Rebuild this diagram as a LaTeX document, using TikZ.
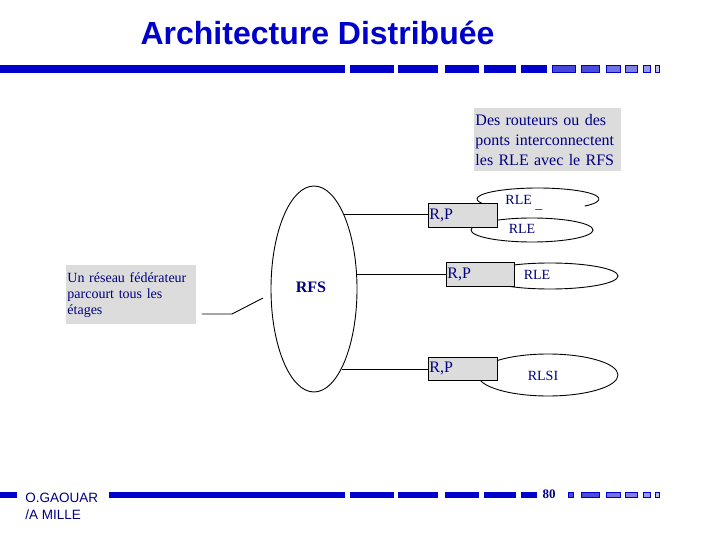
\documentclass[tikz,border=0pt]{standalone}
\usepackage{fontspec}
\setmainfont{Liberation Serif}
\newfontfamily\arialf{Liberation Sans}
\usetikzlibrary{shapes.geometric}
\definecolor{barblue}{HTML}{0000CC}
\definecolor{navy}{HTML}{000080}
\definecolor{boxgray}{HTML}{DCDCDC}
\begin{document}
\begin{tikzpicture}[x=1pt,y=1pt,line width=0.9pt,
  seg/.style={fill=barblue},
  tailseg/.style={draw=barblue,line width=1.4pt},
  rpbox/.style={draw,fill=boxgray,minimum height=24pt,inner xsep=1pt,inner ysep=0pt,
     align=left,anchor=north west,text=navy,font=\fontsize{16}{18}\selectfont},
  notebox/.style={fill=boxgray,inner xsep=1pt,inner ysep=0pt,align=left,anchor=north west,text=navy},
  net/.style={draw,ellipse,fill=white,inner sep=0pt},
  netlabel/.style={text=navy,font=\fontsize{14}{16}\selectfont,inner sep=0pt}]
\useasboundingbox (0,0) rectangle (720,-540);

% title
\node[text=barblue,font=\arialf\bfseries\fontsize{32}{36}\selectfont] (title) at (317.5,-33) {Architecture Distribuée};

% top bar
\foreach \a/\b in {0/345,350/394,398/438,445/479,484/516,521/547}
  \fill[seg] (\a,-65) rectangle (\b,-73);
\foreach \a/\b/\c in {552/576/72,581/600/70,606/621/55,625/638/50,643/651/40,655/660/25}
  \filldraw[tailseg,fill=barblue!\c!white] (\a+0.7,-65.7) rectangle (\b-0.7,-72.3);

% bottom bar
\foreach \a/\b in {0/17,109/345,350/394,398/438,445/479,484/516,521/537}
  \fill[seg] (\a,-492) rectangle (\b,-498);
\foreach \a/\b/\c in {568/574/72,581/600/70,606/621/55,625/638/50,643/651/40,655/660/25}
  \filldraw[tailseg,fill=barblue!\c!white] (\a+0.7,-492.7) rectangle (\b-0.7,-497.3);

% footer texts
\node[anchor=west,align=left,text=navy,inner sep=0pt,font=\arialf\fontsize{13.5}{17}\selectfont] (author) at (25,-506) {O.GAOUAR\\/A MILLE};
\node[text=navy,inner sep=0pt,font=\bfseries\fontsize{13}{14}\selectfont] (page) at (549,-494) {80};

% note boxes
\node[notebox,text width=145pt,minimum height=63pt,font=\fontsize{16}{20}\selectfont] (note) at (474,-108)
  {Des routeurs ou des\\ponts interconnectent\\les RLE avec le RFS};
\node[notebox,text width=128pt,minimum height=59pt,font=\fontsize{14}{16}\selectfont] (fed) at (66,-265)
  {Un réseau fédérateur\\parcourt tous les\\étages};

% backbone
\node[draw,ellipse,minimum width=86pt,minimum height=206pt,inner sep=0pt] (rfs) at (314,-289) {};
\node[text=navy,inner sep=0pt,font=\bfseries\fontsize{16}{18}\selectfont] (rfstext) at (311,-287) {RFS};

% RLE networks
\coordinate (c1) at (538,-199);
\draw (c1) ++(-40:61pt and 11pt) arc[start angle=-40,end angle=215,x radius=61pt,y radius=11pt];
\node[net,minimum width=122pt,minimum height=24pt] (rle2) at (532,-230) {};
\node[net,minimum width=136pt,minimum height=26pt] (rle3) at (550,-276) {};
\node[net,minimum width=140pt,minimum height=42pt] (rlsi) at (548,-375) {};

% routers
\node[rpbox,text width=67pt] (rp1) at (428,-203) {R,P};
\node[rpbox,text width=66pt] (rp2) at (446,-262) {R,P};
\node[rpbox,text width=67pt,minimum height=23pt] (rp3) at (428,-357) {R,P};

% labels
\node[netlabel,anchor=west] (l1) at (505,-203) {RLE \raisebox{-4pt}{\_}};
\node[netlabel] (l2) at (522,-229) {RLE};
\node[netlabel] (l3) at (537,-275) {RLE};
\node[netlabel] (l4) at (543,-376) {RLSI};

% connectors
\draw (rfs.68) -- (rfs.68 -| rp1.west);
\draw (rfs.19.4) -- (rfs.19.4 -| rp2.west);
\draw (rfs.-71) -- (rfs.-71 -| rp3.west);
\coordinate (k1) at (232,-314);
\coordinate (k2) at (263,-298);
\draw ([xshift=5pt]fed.east |- k1) -- (k1) -- (k2);
\end{tikzpicture}
\end{document}
